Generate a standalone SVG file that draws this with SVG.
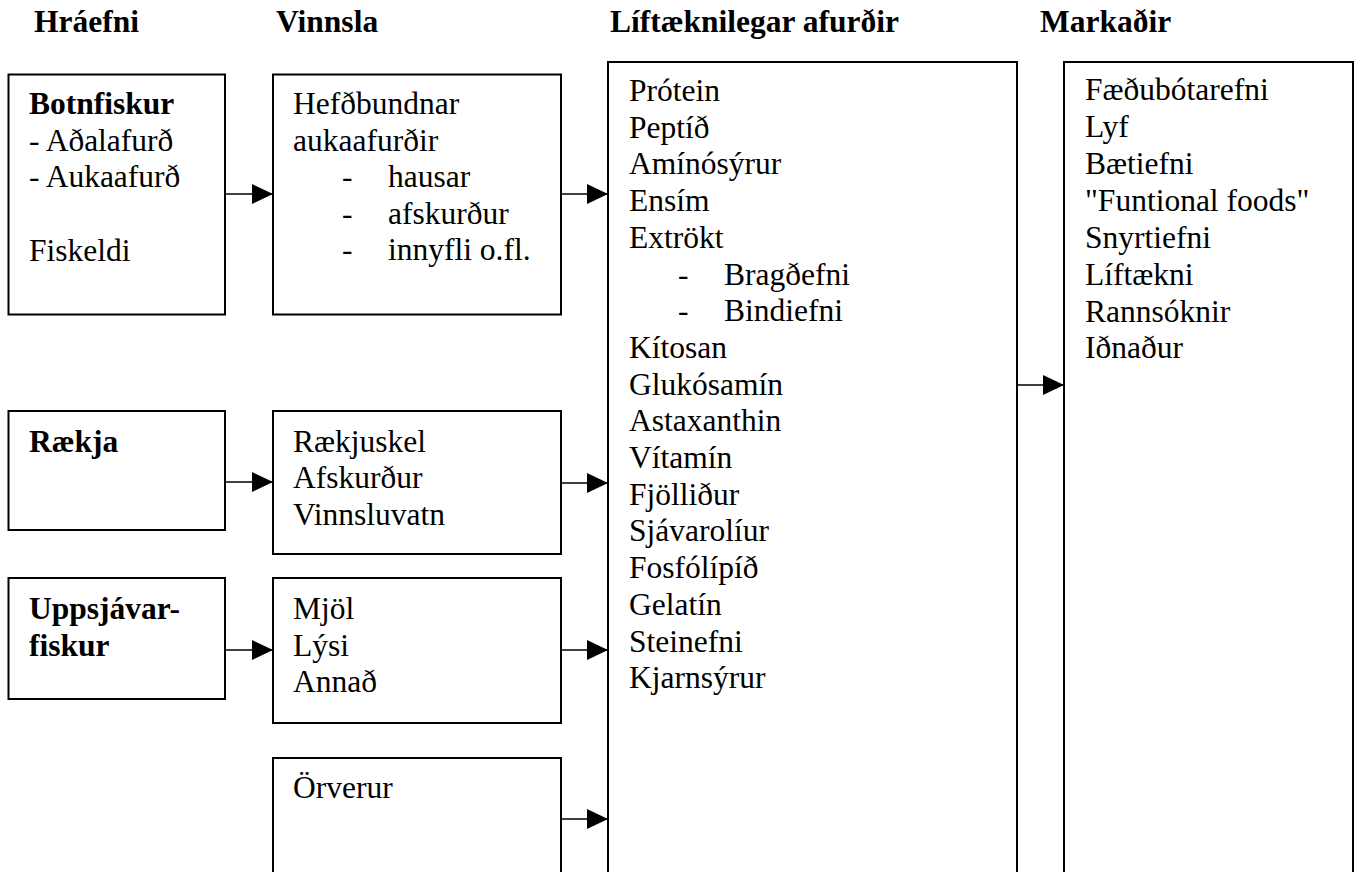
<svg xmlns="http://www.w3.org/2000/svg" width="1358" height="872" viewBox="0 0 1358 872">
<style>
text{font-family:'Liberation Serif','Times New Roman','DejaVu Serif',serif;font-size:31.5px;fill:#000}
.b{font-weight:bold}
.box{fill:#fff;stroke:#000;stroke-width:2}
.con{stroke:#000;stroke-width:1.6;fill:none}
</style>
<defs>
<marker id="ah" markerUnits="userSpaceOnUse" markerWidth="21" markerHeight="20" refX="21" refY="10" orient="auto">
<path d="M0,0 L21,10 L0,20 z" fill="#000"/>
</marker>
</defs>
<rect width="1358" height="872" fill="#fff"/>
<g font-family="'Liberation Serif', 'Times New Roman', 'DejaVu Serif', serif">
<g id="headers">
<text class="b" x="34" y="32">Hráefni</text>
<text class="b" x="276" y="32">Vinnsla</text>
<text class="b" x="610" y="32">Líftæknilegar afurðir</text>
<text class="b" x="1040" y="32">Markaðir</text>
</g>
<g id="botnfiskur">
<rect class="box" x="8.5" y="74.5" width="216.5" height="240"/>
<text class="b" x="29" y="114">Botnfiskur</text>
<text x="29" y="151">- Aðalafurð</text>
<text x="29" y="187">- Aukaafurð</text>
<text x="29" y="261">Fiskeldi</text>
</g>
<g id="hefdbundnar">
<rect class="box" x="273" y="74.5" width="288" height="240"/>
<text x="293" y="114">Hefðbundnar</text>
<text x="293" y="151">aukaafurðir</text>
<text x="342" y="187">-</text><text x="388" y="187">hausar</text>
<text x="342" y="224">-</text><text x="388" y="224">afskurður</text>
<text x="342" y="260">-</text><text x="388" y="260">innyfli o.fl.</text>
</g>
<g id="raekja">
<rect class="box" x="8.5" y="411" width="216.5" height="119"/>
<text class="b" x="29" y="452">Rækja</text>
</g>
<g id="raekjuskel">
<rect class="box" x="273" y="411" width="288" height="143"/>
<text x="293" y="452">Rækjuskel</text>
<text x="293" y="488">Afskurður</text>
<text x="293" y="525">Vinnsluvatn</text>
</g>
<g id="uppsjavarfiskur">
<rect class="box" x="8.5" y="578" width="216.5" height="121"/>
<text class="b" x="29" y="619">Uppsjávar-</text>
<text class="b" x="29" y="656">fiskur</text>
</g>
<g id="mjol">
<rect class="box" x="273" y="578" width="288" height="145"/>
<text x="293" y="619">Mjöl</text>
<text x="293" y="656">Lýsi</text>
<text x="293" y="692">Annað</text>
</g>
<g id="orverur">
<rect class="box" x="273" y="758" width="288" height="130"/>
<text x="293" y="798">Örverur</text>
</g>
<g id="liftaeknilegar">
<rect class="box" x="608" y="62" width="409" height="830"/>
<text x="629" y="101">Prótein</text>
<text x="629" y="137.7">Peptíð</text>
<text x="629" y="174.4">Amínósýrur</text>
<text x="629" y="211.1">Ensím</text>
<text x="629" y="247.8">Extrökt</text>
<text x="678" y="284.5">-</text><text x="724" y="284.5">Bragðefni</text>
<text x="678" y="321.2">-</text><text x="724" y="321.2">Bindiefni</text>
<text x="629" y="357.9">Kítosan</text>
<text x="629" y="394.6">Glukósamín</text>
<text x="629" y="431.3">Astaxanthin</text>
<text x="629" y="468">Vítamín</text>
<text x="629" y="504.7">Fjölliður</text>
<text x="629" y="541.4">Sjávarolíur</text>
<text x="629" y="578.1">Fosfólípíð</text>
<text x="629" y="614.8">Gelatín</text>
<text x="629" y="651.5">Steinefni</text>
<text x="629" y="688.2">Kjarnsýrur</text>
</g>
<g id="markadir">
<rect class="box" x="1064" y="62" width="289" height="830"/>
<text x="1085" y="100">Fæðubótarefni</text>
<text x="1085" y="137">Lyf</text>
<text x="1085" y="174">Bætiefni</text>
<text x="1085" y="211">"Funtional foods"</text>
<text x="1085" y="247.5">Snyrtiefni</text>
<text x="1085" y="284.5">Líftækni</text>
<text x="1085" y="321.5">Rannsóknir</text>
<text x="1085" y="358">Iðnaður</text>
</g>
</g>
<g id="connectors">
<line class="con" x1="225" y1="194" x2="273" y2="194" marker-end="url(#ah)"/>
<line class="con" x1="561" y1="194" x2="608" y2="194" marker-end="url(#ah)"/>
<line class="con" x1="225" y1="482" x2="273" y2="482" marker-end="url(#ah)"/>
<line class="con" x1="561" y1="483" x2="608" y2="483" marker-end="url(#ah)"/>
<line class="con" x1="225" y1="650" x2="273" y2="650" marker-end="url(#ah)"/>
<line class="con" x1="561" y1="650" x2="608" y2="650" marker-end="url(#ah)"/>
<line class="con" x1="561" y1="819" x2="608" y2="819" marker-end="url(#ah)"/>
<line class="con" x1="1017" y1="385" x2="1064" y2="385" marker-end="url(#ah)"/>
</g>
</svg>
